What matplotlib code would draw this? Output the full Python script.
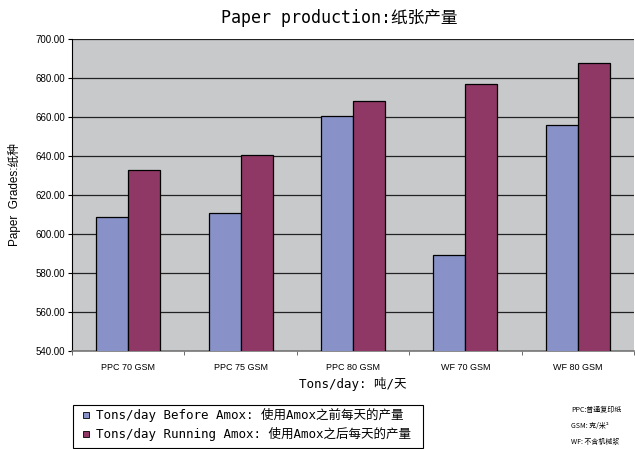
import matplotlib
matplotlib.use("Agg")
import matplotlib.pyplot as plt
import numpy as np
from matplotlib.patches import Rectangle

categories = ["PPC 70 GSM", "PPC 75 GSM", "PPC 80 GSM", "WF 70 GSM", "WF 80 GSM"]
before = [608.9, 610.8, 660.4, 589.1, 655.9]
running = [632.7, 640.5, 668.0, 676.8, 687.5]
yticks = [540, 560, 580, 600, 620, 640, 660, 680, 700]

mono = ["DejaVu Sans Mono", "Noto Sans CJK SC"]
cjk = ["Noto Sans CJK SC", "DejaVu Sans"]
sans = ["Liberation Sans", "Noto Sans CJK SC"]

fig = plt.figure(figsize=(6.35, 4.49), dpi=100)
ax = fig.add_axes([72/635, 1-351/449, 562/635, 312/449])
ax.set_facecolor("#C8C9CB")

x = np.arange(len(categories))
w = 0.285
ax.bar(x - w/2, before, w, bottom=0, color="#8891C8", edgecolor="black", linewidth=0.9, zorder=3)
ax.bar(x + w/2, running, w, bottom=0, color="#903865", edgecolor="black", linewidth=0.9, zorder=3)

ax.set_ylim(540, 700)
ax.set_xlim(-0.5, len(categories) - 0.5)
ax.set_yticks(yticks)
ax.set_yticklabels([f"{v:.2f}" for v in yticks], fontsize=7, family="Liberation Sans")
ax.yaxis.grid(True, color="#222222", linewidth=0.9, zorder=1)
ax.set_axisbelow(True)

ax.set_xticks(x)
ax.set_xticklabels(categories, fontsize=6.5, family="Liberation Sans")
ax.tick_params(axis="x", length=0, pad=9)
ax.set_xticks(np.arange(-0.5, len(categories)), minor=True)
ax.tick_params(axis="x", which="minor", length=3, color="#555555")
ax.tick_params(axis="y", length=3, width=0.8, pad=2)

for s in ["top", "right"]:
    ax.spines[s].set_visible(False)
ax.spines["left"].set_color("black")
ax.spines["bottom"].set_color("#777777")
ax.spines["bottom"].set_linewidth(1.2)

fig.text(0.5 + 22/635, 1-18/449, "Paper production:纸张产量", ha="center", va="center",
         fontsize=12, family=mono)
ax.set_xlabel("Tons/day: 吨/天", fontsize=9, family=mono, labelpad=3)
ax.set_ylabel("Paper  Grades:纸种", fontsize=8.5, family=sans, labelpad=10)

# legend box
fig.patches.append(Rectangle((73/635, 1-448/449), 350/635, 43/449, transform=fig.transFigure,
                             facecolor="white", edgecolor="black", linewidth=0.8))
legend_items = [("#8891C8", "Tons/day Before Amox: 使用Amox之前每天的产量"),
                ("#903865", "Tons/day Running Amox: 使用Amox之后每天的产量")]
for i, (c, t) in enumerate(legend_items):
    yy = 1 - (415 + i*19)/449
    fig.patches.append(Rectangle((83/635, yy - 3/449), 6/635, 6/449, transform=fig.transFigure,
                                 facecolor=c, edgecolor="black", linewidth=0.6))
    fig.text(96/635, yy, t, ha="left", va="center", fontsize=9, family=mono)

notes = ["PPC:普通复印纸", "GSM: 克/米²", "WF: 不含机械浆"]
for i, t in enumerate(notes):
    fig.text(571/635, 1-(410 + i*16)/449, t, ha="left", va="center", fontsize=5, family=cjk)

fig.savefig("out.png", dpi=100)
